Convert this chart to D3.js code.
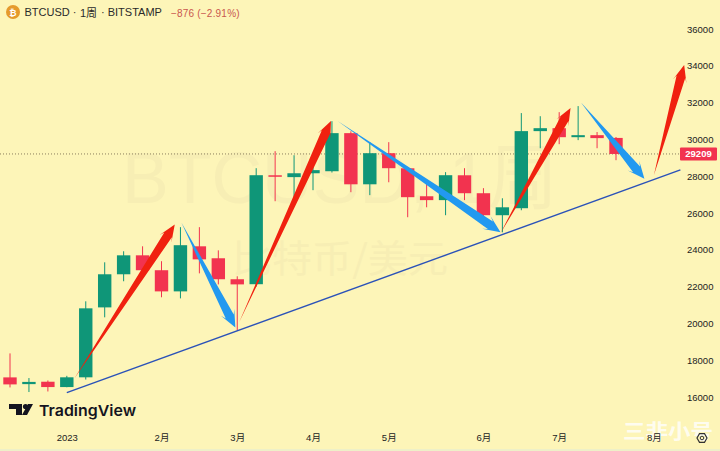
<!DOCTYPE html>
<html>
<head>
<meta charset="utf-8">
<script src="https://cdn.jsdelivr.net/npm/d3@7"></script>
<style>
html, body { margin: 0; padding: 0; background: #fdf5b8; }
svg { display: block; }
</style>
</head>
<body>
<div id="chart"></div>
<script>
// weekly candles
var opens  = [17066, 16700, 16830, 16540, 17070, 20870, 22670, 23700, 22890, 21740, 24190, 23540, 22400, 22130, 28050, 27950, 28160, 28270, 30340, 27560, 29250, 28430, 26910, 26700, 28050, 27075, 25880, 26260, 30450, 30610, 30120, 30230, 30080];
var highs  = [18370, 17030, 16900, 17150, 21200, 23320, 23920, 24190, 23380, 25230, 25230, 23970, 22560, 28435, 29360, 29140, 28700, 30990, 30440, 29850, 29850, 28500, 27620, 28220, 28435, 27350, 26800, 31430, 31260, 31480, 31810, 30400, 30130];
var lows   = [16520, 16270, 16300, 16530, 16950, 20330, 22290, 22700, 21420, 21360, 22720, 22120, 19620, 22000, 26640, 26860, 27240, 28200, 27130, 26970, 27670, 25770, 26310, 25880, 26700, 25330, 24950, 26150, 29520, 29740, 29960, 29520, 28870];
var closes = [16685, 16820, 16540, 17070, 20819, 22670, 23700, 22890, 21740, 24250, 23480, 22400, 22120, 28054, 27980, 28160, 28330, 30340, 27560, 29250, 28435, 26860, 26700, 28054, 27075, 25880, 26310, 30450, 30610, 30120, 30230, 30070, 29209];

var priceTicks = [16000, 18000, 20000, 22000, 24000, 26000, 28000, 30000, 32000, 34000, 36000];
var monthWeeks = [3, 8, 12, 16, 20, 25, 29, 34];
var monthLabels = ["2023", "2月", "3月", "4月", "5月", "6月", "7月", "8月"];
var lastPrice = 29209;

// drawn annotations as [week, price] start and end
var redArrows = [
    [[3.4, 17000], [8.7, 25370]],
    [[12.1, 20060], [16.95, 31000]],
    [[25.9, 24900], [29.6, 31700]],
    [[34, 28050], [35.6, 34050]]
];
var blueArrows = [
    [[9.05, 25480], [11.9, 19780]],
    [[17.3, 31000], [25.9, 24960]],
    [[30.15, 32000], [33.5, 27860]]
];
var trendLine = [[3, 16240], [35.4, 28340]];

var width = 720, height = 451;
var bg = "#fdf5b8", up = "#0f9678", down = "#f2334f";

var x = d3.scaleLinear().domain([0, 32]).range([10, 616]);
var y = d3.scaleLinear().domain([16000, 36000]).range([397, 29]);

var svg = d3.select("#chart").append("svg")
    .attr("width", width)
    .attr("height", height)
    .style("font-family", "'Liberation Sans', 'Noto Sans CJK SC', sans-serif");

svg.append("rect").attr("width", width).attr("height", height).attr("fill", bg);
svg.append("rect").attr("y", 449).attr("width", width).attr("height", 2).attr("fill", "#eef0c8");

// watermark
svg.append("text")
    .attr("x", 122).attr("y", 203)
    .attr("font-size", 72)
    .attr("fill", "#f7eeb4")
    .attr("textLength", 436)
    .attr("lengthAdjust", "spacingAndGlyphs")
    .text("BTCUSD, 1周");
svg.append("text")
    .attr("x", 232).attr("y", 272)
    .attr("font-size", 38)
    .attr("font-family", "'Noto Sans CJK SC'")
    .attr("fill", "#f7eeb4")
    .attr("textLength", 216)
    .attr("lengthAdjust", "spacingAndGlyphs")
    .text("比特币/美元");

// site watermark bottom right, the axis labels sit on top of it
svg.append("text")
    .attr("x", 623).attr("y", 439)
    .attr("font-family", "'Noto Sans CJK SC'")
    .attr("font-size", 20)
    .attr("font-weight", "bold")
    .attr("fill", "#fff")
    .attr("fill-opacity", 0.8)
    .attr("textLength", 90)
    .attr("lengthAdjust", "spacingAndGlyphs")
    .text("三非小号");

// last price line
svg.append("line")
    .attr("x1", 0).attr("x2", 680)
    .attr("y1", y(lastPrice)).attr("y2", y(lastPrice))
    .attr("stroke", "#8a7f5c")
    .attr("stroke-width", 1)
    .attr("stroke-dasharray", "1 2");

// candles
var bodyW = 13.4;
var candles = svg.append("g").selectAll("g")
    .data(d3.range(opens.length))
    .enter().append("g")
    .attr("fill", function(i) { return closes[i] >= opens[i] ? up : down; })
    .attr("stroke", function(i) { return closes[i] >= opens[i] ? up : down; });

candles.append("line")
    .attr("x1", function(i) { return x(i); })
    .attr("x2", function(i) { return x(i); })
    .attr("y1", function(i) { return y(highs[i]); })
    .attr("y2", function(i) { return y(lows[i]); })
    .attr("stroke-width", 1);

candles.append("rect")
    .attr("x", function(i) { return x(i) - bodyW / 2; })
    .attr("width", bodyW)
    .attr("y", function(i) { return y(Math.max(opens[i], closes[i])); })
    .attr("height", function(i) { return Math.max(1.5, Math.abs(y(opens[i]) - y(closes[i]))); })
    .attr("stroke", "none");

// tapered arrow: thin at the tail, barbs swept back from the tip
function arrowPath(a, headLen, headW, neckW) {
    var x1 = x(a[0][0]), y1 = y(a[0][1]), x2 = x(a[1][0]), y2 = y(a[1][1]);
    var dx = x2 - x1, dy = y2 - y1, len = Math.sqrt(dx * dx + dy * dy);
    var ux = dx / len, uy = dy / len, nx = -uy, ny = ux;
    var bx = x2 - ux * headLen, by = y2 - uy * headLen;
    var nckx = x2 - ux * headLen * 0.72, ncky = y2 - uy * headLen * 0.72;
    var pts = [
        [x1, y1],
        [nckx + nx * neckW / 2, ncky + ny * neckW / 2],
        [bx + nx * headW / 2, by + ny * headW / 2],
        [x2, y2],
        [bx - nx * headW / 2, by - ny * headW / 2],
        [nckx - nx * neckW / 2, ncky - ny * neckW / 2]
    ];
    return d3.line()(pts) + "Z";
}

svg.append("line")
    .attr("x1", x(trendLine[0][0])).attr("y1", y(trendLine[0][1]))
    .attr("x2", x(trendLine[1][0])).attr("y2", y(trendLine[1][1]))
    .attr("stroke", "#2b52b8")
    .attr("stroke-width", 1.4);

svg.append("g").selectAll("path")
    .data(blueArrows)
    .enter().append("path")
    .attr("d", function(d) { return arrowPath(d, 17, 15, 9); })
    .attr("fill", "#2299f0");

svg.append("g").selectAll("path")
    .data(redArrows)
    .enter().append("path")
    .attr("d", function(d) { return arrowPath(d, 17, 14, 9); })
    .attr("fill", "#f0210f");

// price axis
var yAxis = d3.axisRight(y).tickValues(priceTicks).tickSize(0).tickPadding(0).tickFormat(d3.format("d"));
var yG = svg.append("g").attr("transform", "translate(687,0)").call(yAxis);
yG.select(".domain").remove();
yG.selectAll("text").attr("font-size", 9.5).attr("font-family", "'Liberation Sans'").attr("fill", "#222");

svg.append("rect")
    .attr("x", 680).attr("y", y(lastPrice) - 6.5)
    .attr("width", 37).attr("height", 13)
    .attr("rx", 1)
    .attr("fill", "#f2334f");
svg.append("text")
    .attr("x", 698.5).attr("y", y(lastPrice) + 3.5)
    .attr("text-anchor", "middle")
    .attr("font-size", 9.5)
    .attr("font-weight", "bold")
    .attr("fill", "#fff")
    .text(lastPrice);

// time axis
var xAxis = d3.axisBottom(x).tickValues(monthWeeks).tickSize(0).tickPadding(0)
    .tickFormat(function(d, i) { return monthLabels[i]; });
var xG = svg.append("g").attr("transform", "translate(0,434)").call(xAxis);
xG.select(".domain").remove();
xG.selectAll("text").attr("font-size", 9.5).attr("font-family", "'Liberation Sans', 'Noto Sans CJK SC'").attr("fill", "#222");

// header
svg.append("circle").attr("cx", 13).attr("cy", 12).attr("r", 7).attr("fill", "#e59a2c");
svg.append("text").attr("x", 13).attr("y", 15.5).attr("text-anchor", "middle")
    .attr("font-size", 9).attr("font-weight", "bold").attr("fill", "#fff").text("₿");
svg.append("text").attr("x", 24.5).attr("y", 16).attr("font-size", 11).attr("fill", "#2a2a2a").text("BTCUSD ·");
svg.append("text").attr("x", 80).attr("y", 17).attr("font-size", 11).attr("fill", "#2a2a2a").text("1周");
svg.append("text").attr("x", 101).attr("y", 16).attr("font-size", 11).attr("fill", "#2a2a2a").text("· BITSTAMP");
svg.append("text").attr("x", 171).attr("y", 16.5).attr("font-size", 10).attr("letter-spacing", 0.2)
    .attr("fill", "#c9574e").text("−876 (−2.91%)");

// TradingView logo
var logo = svg.append("g").attr("transform", "translate(9,403)").attr("fill", "#14141f");
logo.append("path").attr("d", "M0 1H13V12H7V6H0Z");
logo.append("circle").attr("cx", 16.5).attr("cy", 3.5).attr("r", 2.6);
logo.append("path").attr("d", "M19 1H24L18 12H13Z");
svg.append("text").attr("x", 39).attr("y", 415.5)
    .attr("font-family", "Inter, 'Liberation Sans'")
    .attr("font-size", 15)
    .attr("font-weight", 600)
    .attr("fill", "#14141f")
    .attr("textLength", 97)
    .attr("lengthAdjust", "spacingAndGlyphs")
    .text("TradingView");

// settings glyph
svg.append("path")
    .attr("d", d3.line()(d3.range(6).map(function(k) {
        var t = Math.PI / 3 * k;
        return [702 + 5 * Math.cos(t), 438 + 5 * Math.sin(t)];
    })) + "Z")
    .attr("fill", "none").attr("stroke", "#333").attr("stroke-width", 1.2);
svg.append("circle").attr("cx", 702).attr("cy", 438).attr("r", 1.8)
    .attr("fill", "none").attr("stroke", "#333").attr("stroke-width", 1);
</script>
</body>
</html>
